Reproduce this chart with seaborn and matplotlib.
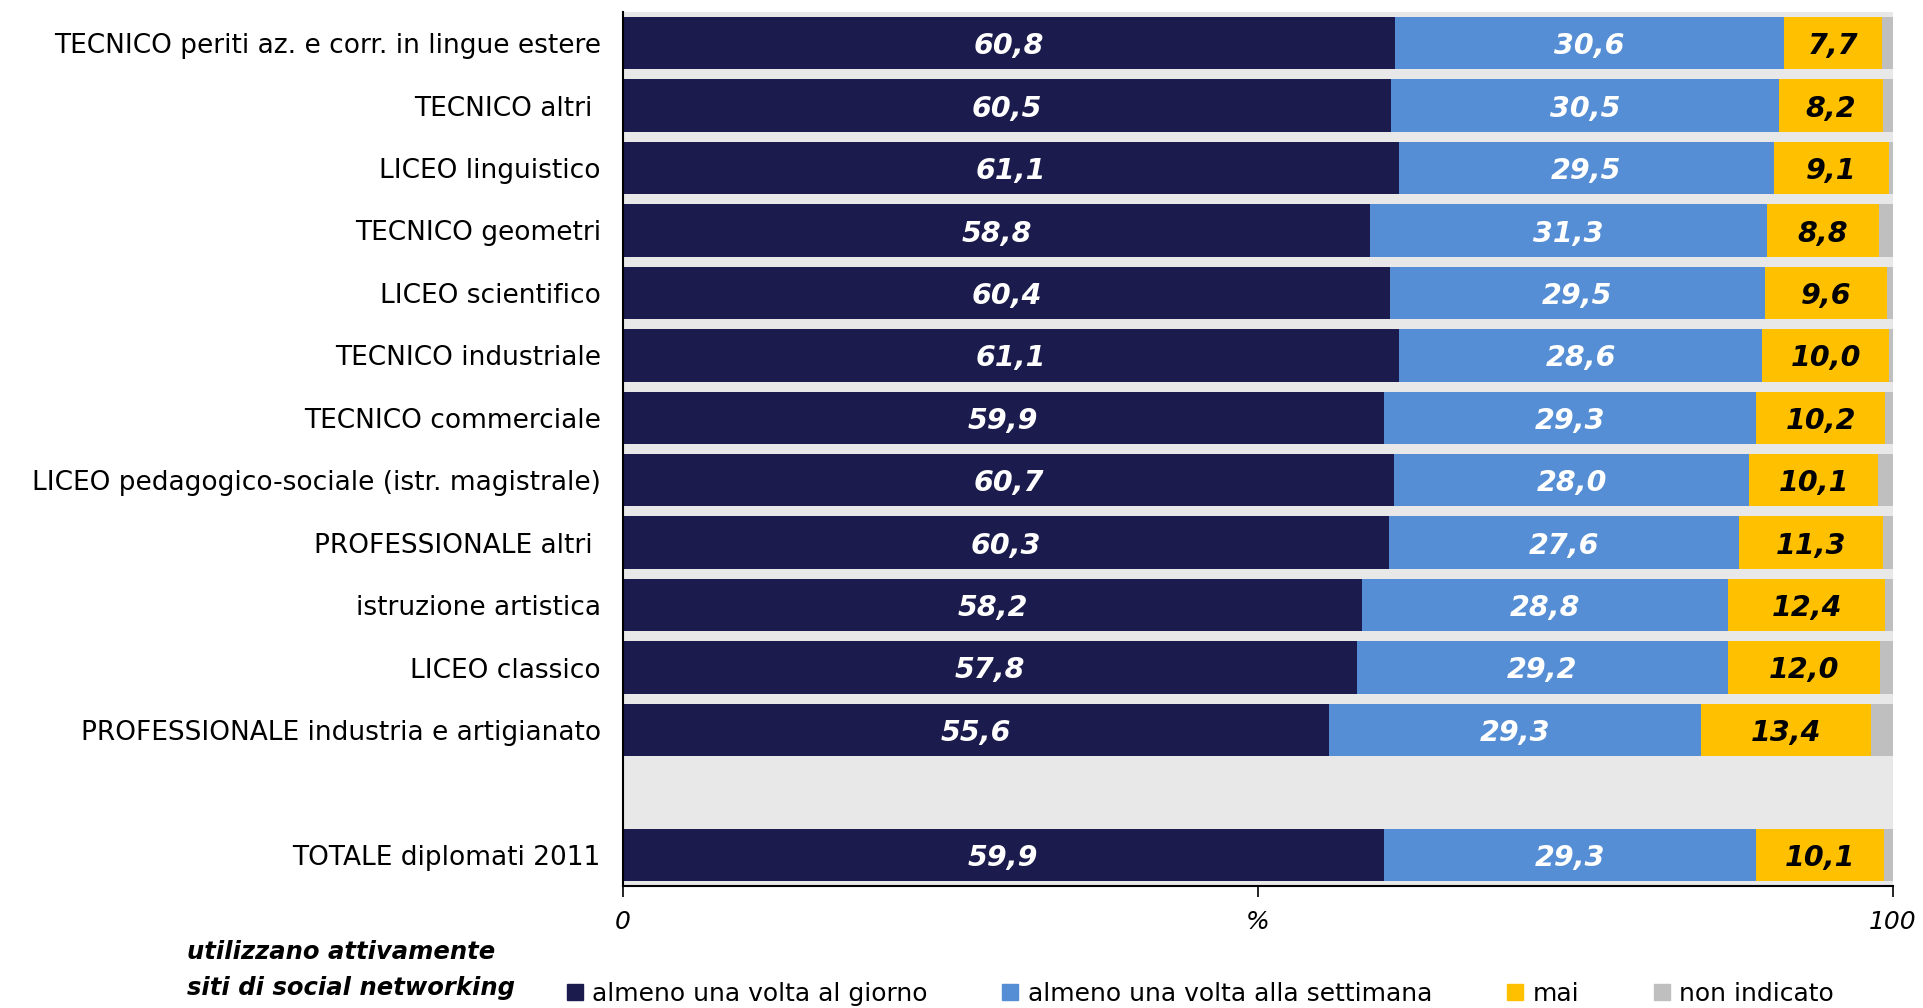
import numpy as np
import pandas as pd
import seaborn as sns
import matplotlib.pyplot as plt
from matplotlib.lines import Line2D

categories = [
    "TECNICO periti az. e corr. in lingue estere",
    "TECNICO altri ",
    "LICEO linguistico",
    "TECNICO geometri",
    "LICEO scientifico",
    "TECNICO industriale",
    "TECNICO commerciale",
    "LICEO pedagogico-sociale (istr. magistrale)",
    "PROFESSIONALE altri ",
    "istruzione artistica",
    "LICEO classico",
    "PROFESSIONALE industria e artigianato",
    "TOTALE diplomati 2011",
]
giorno = [60.8, 60.5, 61.1, 58.8, 60.4, 61.1, 59.9, 60.7, 60.3, 58.2, 57.8, 55.6, 59.9]
settimana = [30.6, 30.5, 29.5, 31.3, 29.5, 28.6, 29.3, 28.0, 27.6, 28.8, 29.2, 29.3, 29.3]
mai = [7.7, 8.2, 9.1, 8.8, 9.6, 10.0, 10.2, 10.1, 11.3, 12.4, 12.0, 13.4, 10.1]
non_indicato = [0.9, 0.8, 0.3, 1.1, 0.5, 0.3, 0.6, 1.2, 0.8, 0.6, 1.0, 1.7, 0.7]

series_names = ["almeno una volta al giorno", "almeno una volta alla settimana",
                "mai", "non indicato"]
colors = ["#1B1B4D", "#558ED5", "#FFC000", "#BFBFBF"]
text_colors = ["white", "white", "black"]

gap = "\u2009"  # empty row between the schools and the total
order = categories[:-1] + [gap] + categories[-1:]

df = pd.DataFrame({"cat": categories, "s1": giorno, "s2": settimana,
                   "s3": mai, "s4": non_indicato})
df["c1"] = df["s1"]
df["c2"] = df["c1"] + df["s2"]
df["c3"] = df["c2"] + df["s3"]
df["c4"] = df["c3"] + df["s4"]

sns.set_theme(style="white")
plt.rcParams["font.family"] = ["DejaVu Sans"]
plt.rcParams["text.color"] = "black"
plt.rcParams["xtick.color"] = "black"
plt.rcParams["ytick.color"] = "black"

fig = plt.figure(figsize=(19.24, 10.08), dpi=100)
ax = fig.add_axes([623 / 1924, 1 - 886 / 1008, 1270 / 1924, 874 / 1008])
ax.set_facecolor("#E8E8E8")

# stacked bars: draw cumulative totals from widest to narrowest
for col, c in zip(["c4", "c3", "c2", "c1"], colors[::-1]):
    sns.barplot(data=df, x=col, y="cat", order=order, color=c, width=0.84,
                linewidth=0, errorbar=None, orient="h", ax=ax, saturation=1)

# value labels
for _, row in df.iterrows():
    y = order.index(row["cat"])
    start = 0
    for k in range(3):
        v = row[f"s{k + 1}"]
        ax.text(start + v / 2, y, f"{v:.1f}".replace(".", ","), ha="center",
                va="center_baseline", color=text_colors[k], fontsize=20.5,
                fontweight="bold", fontstyle="italic")
        start += v

ax.set_xlim(0, 100)
ax.set_ylim(len(order) - 0.5, -0.5)
ax.set_xlabel("")
ax.set_ylabel("")
ax.set_xticks([0, 50, 100])
ax.set_xticklabels(["0", "%", "100"], fontstyle="italic", fontsize=18)
ax.tick_params(axis="x", length=8, width=1.2, color="black", direction="out",
               pad=9, bottom=True)
ax.tick_params(axis="y", length=0, labelsize=19, pad=16)
for s in ["top", "right"]:
    ax.spines[s].set_visible(False)
for s in ["left", "bottom"]:
    ax.spines[s].set_color("black")
    ax.spines[s].set_linewidth(1.5)

fig.text(187 / 1924, 1 - 970 / 1008, "utilizzano attivamente\nsiti di social networking",
         fontsize=17.5, fontweight="bold", fontstyle="italic", va="center", ha="left",
         linespacing=1.6)

handles = [Line2D([], [], marker="s", linestyle="", markersize=12, color=c) for c in colors]
fig.legend(handles, series_names, loc="center left", bbox_to_anchor=(565 / 1924, 1 - 994 / 1008),
           ncol=4, frameon=False, fontsize=18, handlelength=0.8, handletextpad=0.3,
           columnspacing=2.9, borderaxespad=0, borderpad=0)

fig.savefig("out.png", dpi=100)
